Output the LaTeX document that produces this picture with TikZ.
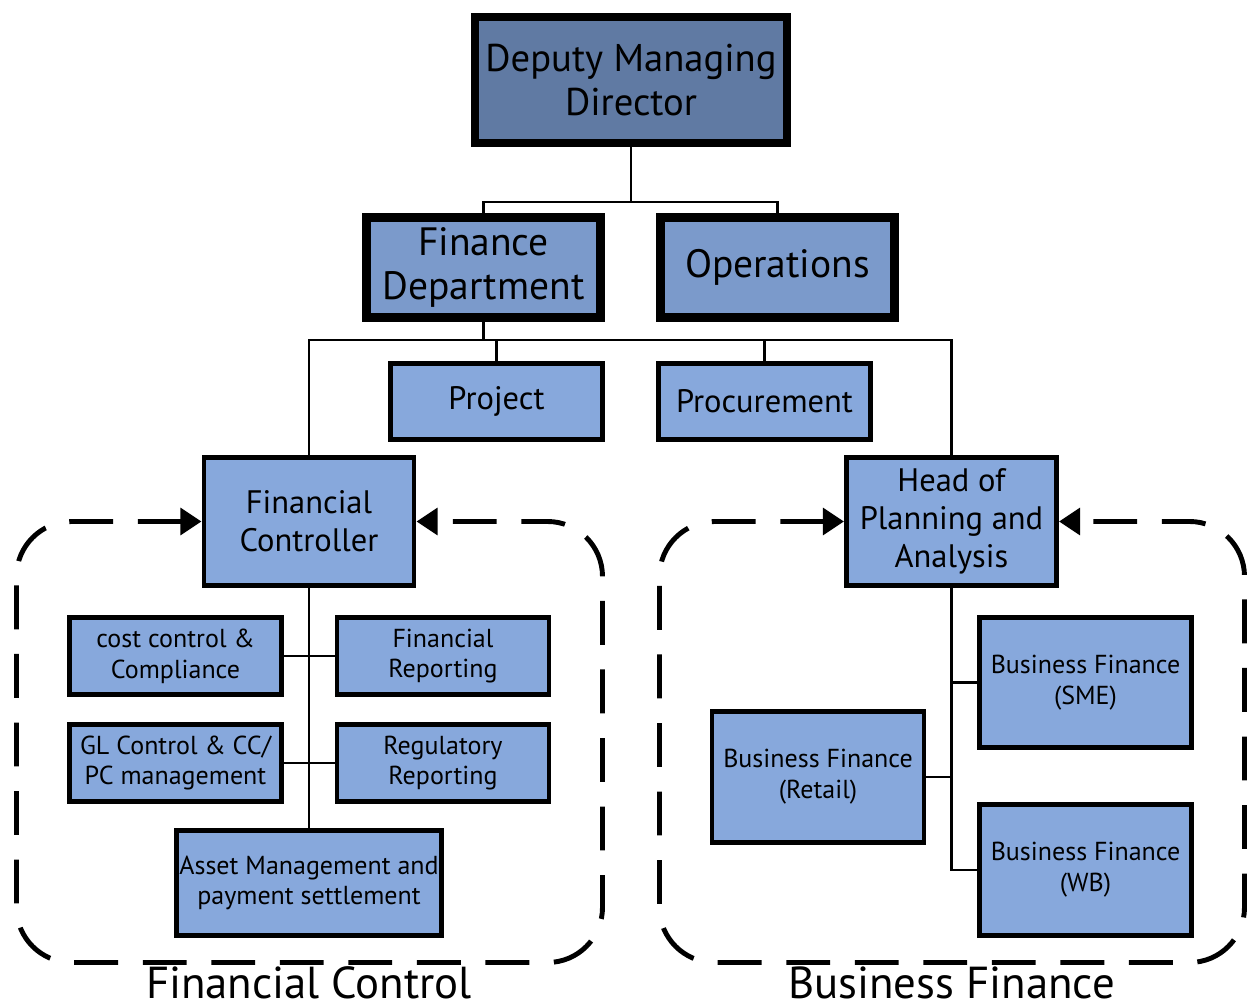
\documentclass[tikz,border=0pt]{standalone}
\usepackage{fontspec}
\setmainfont{PT Sans}
\usetikzlibrary{arrows.meta,calc}

\definecolor{topblue}{RGB}{96,122,163}
\definecolor{midblue}{RGB}{123,154,203}
\definecolor{lowblue}{RGB}{135,168,220}

\begin{document}
\begin{tikzpicture}[
    x=0.02cm, y=-0.02cm,
    topbox/.style={rectangle, draw, line width=5pt, fill=topblue, align=center, minimum width=6.24cm, minimum height=2.52cm, inner sep=0pt, font=\fontsize{22}{25}\selectfont},
    deptbox/.style={rectangle, draw, line width=5pt, fill=midblue, align=center, minimum width=4.68cm, minimum height=2.0cm, inner sep=0pt, font=\fontsize{22.5}{25.5}\selectfont},
    unitbox/.style={rectangle, draw, line width=2.8pt, fill=lowblue, align=center, inner sep=0pt, font=\fontsize{18.5}{21.5}\selectfont},
    teambox/.style={rectangle, draw, line width=2.8pt, fill=lowblue, align=center, inner sep=0pt, minimum width=4.24cm, font=\fontsize{14.8}{17.5}\selectfont},
    link/.style={line width=1.7pt},
    group/.style={line width=2.8pt, dash pattern=on 25pt off 14pt, rounded corners=1.1cm, {Triangle[length=12pt,width=15pt]}-{Triangle[length=12pt,width=15pt]}},
    grouplabel/.style={font=\fontsize{25.5}{28}\selectfont, inner sep=0pt},
]
\useasboundingbox (0,0) rectangle (1249,1006);

% Top of the hierarchy
\node[topbox] (dmd) at (631,80) {Deputy Managing\\Director};
\node[deptbox] (fd) at (483.5,267.5) {Finance\\Department};
\node[deptbox] (ops) at (777.5,267.5) {Operations};

% Units under the finance department
\node[unitbox, minimum width=4.24cm, minimum height=1.52cm] (project) at (496.5,401.5) {Project};
\node[unitbox, minimum width=4.24cm, minimum height=1.52cm] (proc) at (764.5,401.5) {Procurement};
\node[unitbox, minimum width=4.2cm, minimum height=2.56cm] (fc) at (309,521.5) {Financial\\Controller};
\node[unitbox, minimum width=4.2cm, minimum height=2.56cm] (hpa) at (951.5,521.5) {Head of\\Planning and\\Analysis};

% Financial control teams
\node[teambox, minimum height=1.54cm] (cc) at (175.5,656) {cost control \&\\Compliance};
\node[teambox, minimum height=1.54cm] (fr) at (443,656) {Financial\\Reporting};
\node[teambox, minimum height=1.54cm] (gl) at (175.5,763) {GL Control \& CC/\\PC management};
\node[teambox, minimum height=1.54cm] (rr) at (443,763) {Regulatory\\Reporting};
\node[teambox, minimum width=5.3cm, minimum height=2.1cm] (asset) at (309,883) {Asset Management and\\payment settlement};

% Business finance teams
\node[teambox, minimum height=2.6cm] (sme) at (1085.5,682.5) {Business Finance\\(SME)};
\node[teambox, minimum height=2.62cm] (retail) at (818,777) {Business Finance\\(Retail)};
\node[teambox, minimum height=2.62cm] (wb) at (1085.5,870) {Business Finance\\(WB)};

% Connectors
\coordinate (j1) at (631,202);
\draw[link] (dmd.south) -- (j1) -| (fd.north);
\draw[link] (j1) -| (ops.north);
\coordinate (j2) at (483.5,340);
\draw[link] (fd.south) -- (j2) -| (fc.north);
\draw[link] (j2) -| (project.north);
\draw[link] (j2) -| (proc.north);
\draw[link] (j2) -| (hpa.north);
\draw[link] (fc.south) -- (asset.north);
\draw[link] (cc.east) -- (fr.west);
\draw[link] (gl.east) -- (rr.west);
\draw[link] (hpa.south) |- (wb.west);
\draw[link] (sme.west) -- (sme.west -| hpa.south);
\draw[link] (retail.east) -- (retail.east -| hpa.south);

% Dashed groups
\draw[group] (fc.west) -- (16.5,521.5) -- (16.5,962.5) -- (602.5,962.5) -- (602.5,521.5) -- (fc.east);
\draw[group] (hpa.west) -- (659.5,521.5) -- (659.5,962.5) -- (1244.5,962.5) -- (1244.5,521.5) -- (hpa.east);
\node[grouplabel, anchor=base] (fclabel) at (309,999) {Financial Control};
\node[grouplabel, anchor=base] (bflabel) at (951.5,999) {Business Finance};

\end{tikzpicture}
\end{document}
